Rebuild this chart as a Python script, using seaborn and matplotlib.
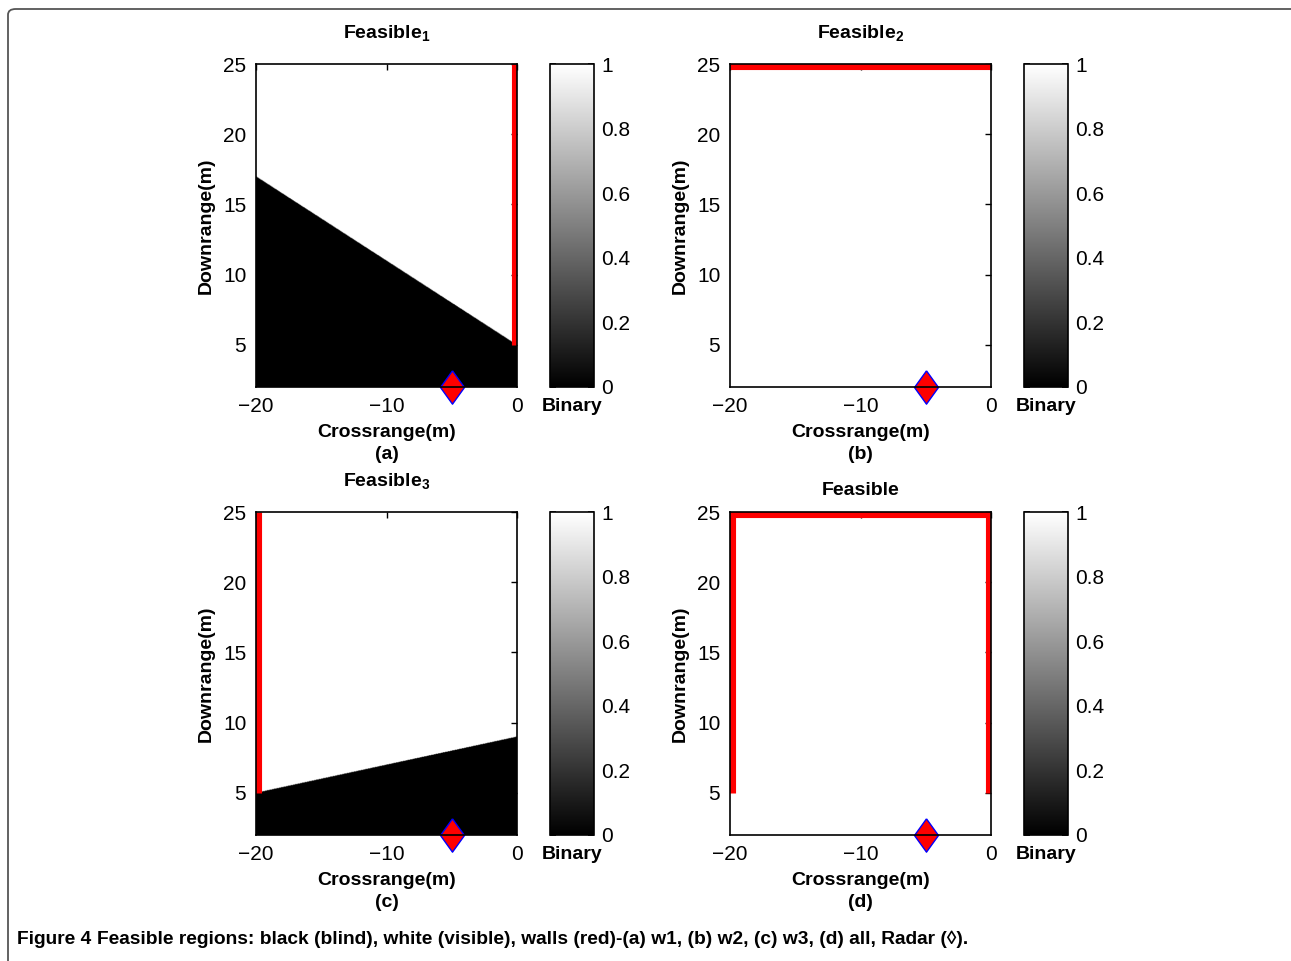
import numpy as np
import matplotlib
matplotlib.use("Agg")
import matplotlib.pyplot as plt
import seaborn as sns
from matplotlib.patches import FancyBboxPatch

sns.set_theme(style="white")
plt.rcParams["font.family"] = ["Liberation Sans", "DejaVu Sans"]
plt.rcParams["mathtext.fontset"] = "custom"
plt.rcParams["mathtext.rm"] = "Liberation Sans"
plt.rcParams["mathtext.bf"] = "Liberation Sans:bold"
plt.rcParams["text.color"] = "black"
plt.rcParams["axes.labelcolor"] = "black"

# scene extent (m)
x_lim = [-20, 0]
y_lim = [2, 25]
x_ticks = [-20, -10, 0]
y_ticks = [5, 10, 15, 20, 25]
cbar_ticks = [0, 0.2, 0.4, 0.6, 0.8, 1]
cbar_labels = ["0", "0.2", "0.4", "0.6", "0.8", "1"]

radar_x = [-5]
radar_y = [2]

# walls: (x, y) end points
wall1_x, wall1_y = [0, 0], [5, 25]
wall2_x, wall2_y = [-20, 0], [25, 25]
wall3_x, wall3_y = [-20, -20], [5, 25]

# blind/visible boundary (below = blind)
edge_a_x, edge_a_y = [-20, 0], [17, 5]
edge_b_x, edge_b_y = [-20, 0], [2, 2]
edge_c_x, edge_c_y = [-20, 0], [5, 9]
edge_d_x, edge_d_y = [-20, 0], [2, 2]

titles = [r"$\mathbf{Feasible}_\mathbf{1}$", r"$\mathbf{Feasible}_\mathbf{2}$",
          r"$\mathbf{Feasible}_\mathbf{3}$", "Feasible"]
title_pads = [18, 18, 18, 12]
letters = ["(a)", "(b)", "(c)", "(d)"]
edges = [(edge_a_x, edge_a_y), (edge_b_x, edge_b_y), (edge_c_x, edge_c_y), (edge_d_x, edge_d_y)]
walls = [[(wall1_x, wall1_y)], [(wall2_x, wall2_y)], [(wall3_x, wall3_y)],
         [(wall1_x, wall1_y), (wall2_x, wall2_y), (wall3_x, wall3_y)]]

W, H = 1291, 961
fig = plt.figure(figsize=(W / 100, H / 100), dpi=100)

def px(l, t, w, h):
    return [l / W, 1 - (t + h) / H, w / W, h / H]

ax_pos = [(256, 64), (730, 64), (256, 512), (730, 512)]

gx = np.linspace(x_lim[0], x_lim[1], 520)
gy = np.linspace(y_lim[0], y_lim[1], 640)
GX, GY = np.meshgrid(gx, gy)

for i in range(4):
    l, t = ax_pos[i]
    ax = fig.add_axes(px(l, t, 261, 323))
    ex, ey = edges[i]
    visible = (GY >= np.interp(GX, ex, ey)).astype(float)
    im = ax.imshow(visible, cmap="gray", vmin=0, vmax=1, origin="lower",
                   extent=[x_lim[0], x_lim[1], y_lim[0], y_lim[1]], aspect="auto",
                   interpolation="bilinear")
    for wx, wy in walls[i]:
        sns.lineplot(x=wx, y=wy, ax=ax, color="red", linewidth=8,
                     estimator=None, sort=False, zorder=3, solid_capstyle="butt")
    ax.plot(radar_x, radar_y, linestyle="none",
            marker=[(0, 1), (0.72, 0), (0, -1), (-0.72, 0), (0, 1)],
            markersize=24, markerfacecolor="red", markeredgecolor="blue",
            markeredgewidth=1, clip_on=False, zorder=2)
    ax.set_xlim(x_lim)
    ax.set_ylim(y_lim)
    ax.set_xticks(x_ticks)
    ax.set_yticks(y_ticks)
    ax.tick_params(direction="in", top=True, right=True, length=4, width=1,
                   labelsize=15, pad=7, colors="black")
    for s in ax.spines.values():
        s.set_visible(True)
        s.set_color("black")
        s.set_linewidth(1.2)
        s.set_zorder(5)
    ax.set_title(titles[i], fontsize=14, fontweight="bold", pad=title_pads[i])
    ax.set_xlabel("Crossrange(m)\n" + letters[i], fontsize=14, fontweight="bold",
                  labelpad=6, linespacing=1.4)
    ax.set_ylabel("Downrange(m)", fontsize=14, fontweight="bold", labelpad=6)

    cax = fig.add_axes(px(l + 294, t, 44, 323))
    cb = fig.colorbar(im, cax=cax, ticks=cbar_ticks)
    cb.ax.set_yticklabels(cbar_labels)
    cb.ax.tick_params(direction="in", left=True, right=True, length=4,
                      labelsize=15, pad=5, colors="black")
    cb.outline.set_edgecolor("black")
    cb.outline.set_linewidth(1.2)
    cb.ax.set_xlabel("Binary", fontsize=14, fontweight="bold", labelpad=8)

# page frame and caption
frame = FancyBboxPatch((8 / W, -0.1), 1.2, 1.1 - 9 / H,
                       boxstyle="round,pad=0,rounding_size=0.006",
                       transform=fig.transFigure, fill=False,
                       edgecolor="#555555", linewidth=1.3, clip_on=False)
fig.patches.append(frame)

fig.canvas.draw()
cap_y = 1 - 944 / H
cap1 = fig.text(17 / W, cap_y, "Figure 4 ", fontsize=13.8, fontweight="bold",
                va="baseline", ha="left")
bb = cap1.get_window_extent(renderer=fig.canvas.get_renderer())
fig.text(bb.x1 / W, cap_y,
         "Feasible regions: black (blind), white (visible), walls (red)-(a) w1, (b) w2, (c) w3, (d) all, Radar (\u25CA).",
         fontsize=13.8, fontweight="bold", va="baseline", ha="left")

fig.savefig("out.png", dpi=100)
